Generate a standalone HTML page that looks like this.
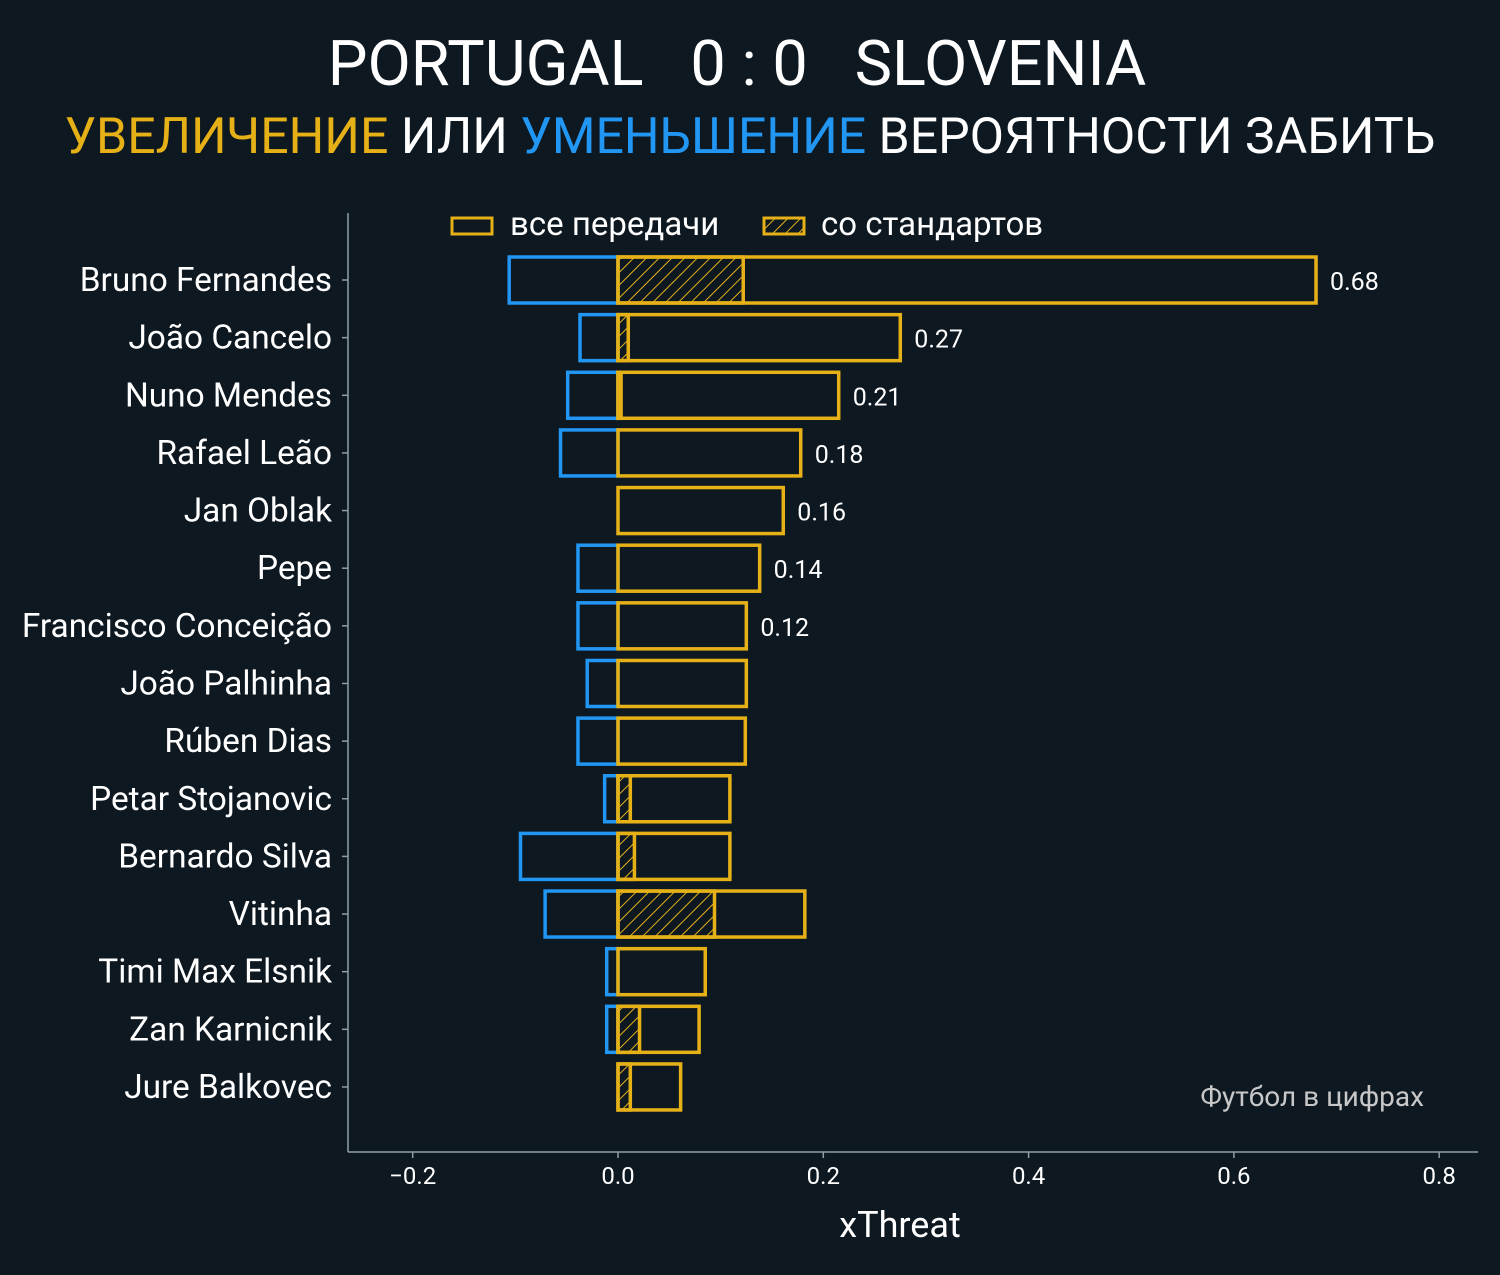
<!DOCTYPE html>
<html><head><meta charset="utf-8"><style>
html,body{margin:0;padding:0;background:#0e1821;}
svg{display:block;font-family:"Roboto","Liberation Sans","DejaVu Sans",sans-serif;}
</style></head><body>
<svg id="chart" width="1500" height="1275" viewBox="0 0 1500 1275" xmlns="http://www.w3.org/2000/svg">
<defs>
<pattern id="hatch" patternUnits="userSpaceOnUse" width="9" height="9" patternTransform="rotate(45)">
<line x1="0" y1="0" x2="0" y2="9" stroke="#e6b117" stroke-width="2"/>
</pattern>
</defs>
<rect width="1500" height="1275" fill="#0e1821"/>
<text x="737" y="85" text-anchor="middle" font-size="63" fill="#ffffff" xml:space="preserve">PORTUGAL   0 : 0   SLOVENIA</text>
<text x="750" y="153" text-anchor="middle" font-size="50" fill="#ffffff"><tspan fill="#e6b117">УВЕЛИЧЕНИЕ</tspan> ИЛИ <tspan fill="#2196f3">УМЕНЬШЕНИЕ</tspan> ВЕРОЯТНОСТИ ЗАБИТЬ</text>
<g>
<rect x="452" y="218" width="40" height="16" fill="none" stroke="#e6b117" stroke-width="3"/>
<text x="510" y="235" font-size="33" fill="#ffffff">все передачи</text>
<rect x="764" y="218" width="40" height="16" fill="url(#hatch)" stroke="#e6b117" stroke-width="3"/>
<text x="821" y="235" font-size="33" fill="#ffffff">со стандартов</text>
</g>
<line x1="348" y1="213" x2="348" y2="1152" stroke="#8fa0a0" stroke-width="1.5"/>
<line x1="348" y1="1152" x2="1478" y2="1152" stroke="#8fa0a0" stroke-width="1.5"/>
<g id="bars"></g>
<g id="xticks"></g>
<text x="900" y="1237" text-anchor="middle" font-size="36" fill="#ffffff">xThreat</text>
<text x="1424" y="1106" text-anchor="end" font-size="28" fill="#c8c8c8">Футбол в цифрах</text>
</svg>
<script>
const players=["Bruno Fernandes","João Cancelo","Nuno Mendes","Rafael Leão","Jan Oblak","Pepe","Francisco Conceição","João Palhinha","Rúben Dias","Petar Stojanovic","Bernardo Silva","Vitinha","Timi Max Elsnik","Zan Karnicnik","Jure Balkovec"];
const positive=[0.68,0.275,0.215,0.178,0.161,0.138,0.125,0.125,0.124,0.109,0.109,0.182,0.085,0.079,0.061];
const negative=[-0.106,-0.037,-0.049,-0.056,0,-0.039,-0.039,-0.030,-0.039,-0.013,-0.095,-0.071,-0.011,-0.011,0];
const setPieces=[0.122,0.010,0.003,0,0,0,0,0,0,0.012,0.016,0.094,0,0.021,0.012];
const valueLabels=["0.68","0.27","0.21","0.18","0.16","0.14","0.12","","","","","","","",""];
const xTicks=[-0.2,0,0.2,0.4,0.6,0.8];
const xTickLabels=["−0.2","0.0","0.2","0.4","0.6","0.8"];
const NS="http://www.w3.org/2000/svg";
const x=v=>618+v*1026.5;
const y=i=>280+i*57.64;
const bh=46;
function mk(tag,attrs,parent){const e=document.createElementNS(NS,tag);for(const k in attrs)e.setAttribute(k,attrs[k]);parent.appendChild(e);return e;}
const g=document.getElementById('bars');
players.forEach((p,i)=>{
  const cy=y(i);
  const t=mk('text',{x:332,y:cy+11,'text-anchor':'end','font-size':33.4,fill:'#ffffff'},g);
  t.textContent=p;
  
  
  const tk=mk('line',{x1:342,x2:348,y1:cy,y2:cy,stroke:'#8fa0a0','stroke-width':1.5},g);
  
  
  if(negative[i]<0){
    const n=mk('rect',{x:x(negative[i]),y:cy-bh/2,width:x(0)-x(negative[i]),height:bh,fill:'none',stroke:'#2196f3','stroke-width':3.5},g);
    
    
  }
  if(setPieces[i]>0){
    const s=mk('rect',{x:x(0),y:cy-bh/2,width:x(setPieces[i])-x(0),height:bh,fill:'url(#hatch)',stroke:'#e6b117','stroke-width':3.5},g);
    
    
  }
  const b=mk('rect',{x:x(0),y:cy-bh/2,width:x(positive[i])-x(0),height:bh,fill:'none',stroke:'#e6b117','stroke-width':3.5},g);
  
  
  if(valueLabels[i]){
    const v=mk('text',{x:x(positive[i])+14,y:cy+10,'font-size':25,fill:'#ffffff'},g);
    v.textContent=valueLabels[i];
    
    
  }
});
const xt=document.getElementById('xticks');
xTicks.forEach((v,i)=>{
  const l=mk('line',{x1:x(v),x2:x(v),y1:1152,y2:1158,stroke:'#8fa0a0','stroke-width':1.5},xt);
  
  
  const t=mk('text',{x:x(v),y:1184,'text-anchor':'middle','font-size':24,fill:'#ffffff'},xt);
  t.textContent=xTickLabels[i];
  
  
});
</script>
</body></html>
